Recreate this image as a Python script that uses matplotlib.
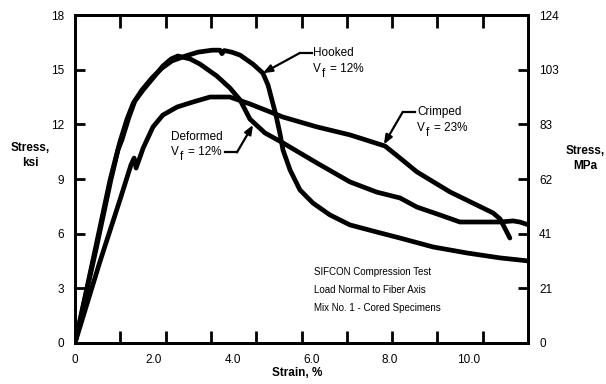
import matplotlib
matplotlib.use('Agg')
import matplotlib.pyplot as plt
import numpy as np

plt.rcParams['font.family'] = ['Liberation Sans', 'DejaVu Sans']


# stress-strain curves, strain in %, stress in ksi
hooked_strain = [0, 0.51, 0.89, 1.02, 1.14, 1.32, 1.48, 1.70, 1.95, 2.21, 2.46, 2.79,
                 3.12, 3.48, 3.68, 3.73, 3.79, 3.98, 4.19, 4.52, 4.77, 4.90, 5.00,
                 5.10, 5.20, 5.28, 5.46, 5.71, 6.04, 6.47, 6.98, 7.66, 8.25, 9.09,
                 9.95, 10.79, 11.52]
hooked_stress = [0, 5.10, 8.95, 10.04, 11.04, 12.29, 13.17, 13.89, 14.54, 15.09, 15.48, 15.74,
                 15.96, 16.07, 16.07, 15.88, 16.05, 15.96, 15.80, 15.30, 14.81, 14.15, 13.33,
                 12.51, 11.52, 10.59, 9.49, 8.40, 7.68, 7.03, 6.48, 6.09, 5.76, 5.27,
                 4.94, 4.67, 4.50]

deformed_strain = [0, 0.53, 0.91, 1.09, 1.19, 1.37, 1.52, 1.73, 1.98, 2.23, 2.44, 2.61,
                   2.92, 3.17, 3.60, 3.93, 4.19, 4.44, 4.82, 5.28, 6.14, 6.98, 7.66,
                   8.25, 8.68, 9.26, 9.77, 10.79, 11.12, 11.29, 11.52]
deformed_stress = [0, 5.10, 8.95, 10.59, 11.14, 12.40, 13.28, 13.89, 14.54, 15.20, 15.59, 15.75,
                   15.59, 15.31, 14.65, 14.00, 13.34, 12.29, 11.53, 10.98, 9.88, 8.84, 8.28,
                   7.96, 7.46, 7.03, 6.64, 6.64, 6.70, 6.64, 6.48]

crimped_strain = [0, 0.63, 1.14, 1.42, 1.50, 1.55, 1.73, 1.98, 2.23, 2.59, 3.00, 3.43,
                  3.93, 4.44, 5.28, 6.14, 6.98, 7.87, 8.25, 8.68, 9.52, 10.61, 10.79,
                  10.91, 11.04]
crimped_stress = [0, 4.45, 7.85, 9.77, 10.15, 9.60, 10.70, 11.86, 12.51, 12.95, 13.23, 13.50,
                  13.50, 13.12, 12.40, 11.86, 11.42, 10.81, 10.15, 9.39, 8.29, 7.14, 6.81,
                  6.31, 5.76]

ksi_ticks = [0, 3, 6, 9, 12, 15, 18]
mpa_labels = ['0', '21', '41', '62', '83', '103', '124']
strain_labels = [0, 2, 4, 6, 8, 10]
strain_max = 11.5

notes = ['SIFCON Compression Test', 'Load Normal to Fiber Axis',
         'Mix No. 1 - Cored Specimens']

fig = plt.figure(figsize=(6.06, 3.84), dpi=100)
ax = fig.add_axes([0.1238, 0.1068, 0.7475, 0.8541])

lw = 3.4
for s, t in [(hooked_strain, hooked_stress), (deformed_strain, deformed_stress),
             (crimped_strain, crimped_stress)]:
    ax.plot(s, t, color='black', lw=lw, solid_joinstyle='round', solid_capstyle='round')

ax.set_xlim(0, strain_max)
ax.set_ylim(0, 18)

for sp in ax.spines.values():
    sp.set_linewidth(2)

# labelled strain values carry no tick marks; the tick marks sit on an even 10-part grid
ax.set_xticks(strain_labels)
ax.set_xticklabels(['0', '2.0', '4.0', '6.0', '8.0', '10.0'])
ax.set_xticks(np.linspace(0, strain_max, 11)[1:-1], minor=True)
ax.tick_params(axis='x', which='major', length=0, pad=8, labelsize=8.5)
ax.tick_params(axis='x', which='minor', direction='in', length=9, width=2,
               top=True, bottom=True)

ax.set_yticks(ksi_ticks)
ax.set_yticklabels([str(v) for v in ksi_ticks])
ax.tick_params(axis='y', direction='in', length=7, width=2, pad=8, labelsize=8.5)

ax2 = ax.twinx()
ax2.set_ylim(0, 18)
ax2.set_yticks(ksi_ticks)
ax2.set_yticklabels(mpa_labels)
ax2.tick_params(axis='y', direction='in', length=7, width=2, pad=8, labelsize=8.5)
for sp in ax2.spines.values():
    sp.set_linewidth(2)

fig.text(0.050, 0.595, 'Stress,\nksi', ha='center', va='center', fontsize=8.5,
         fontweight='bold', linespacing=1.3)
fig.text(0.966, 0.588, 'Stress,\nMPa', ha='center', va='center', fontsize=8.5,
         fontweight='bold', linespacing=1.3)
fig.text(0.49, 0.028, 'Strain, %', ha='center', va='center', fontsize=8.5,
         fontweight='bold')

arrow = dict(arrowstyle='-|>,head_length=0.45,head_width=0.18', color='black',
             lw=1.6, shrinkA=0, shrinkB=0, mutation_scale=12)


def vf_text(x, y, pct):
    # V with a lowered, full-size f, then the fraction
    kw = dict(xy=(x, y), xycoords='data', textcoords='offset points',
              fontsize=8.5, ha='left', va='center')
    ax.annotate('V', xytext=(0, 0), **kw)
    ax.annotate('f', xytext=(6.6, -3.6), **kw)
    ax.annotate('= ' + pct, xytext=(12.2, 0), **kw)


def label_curve(name, vf, text_xy, corner, end, tip):
    ax.text(text_xy[0], text_xy[1], name, fontsize=8.5, ha='left', va='center')
    vf_text(text_xy[0], text_xy[1] - 0.90, vf)
    ax.plot([end[0], corner[0]], [end[1], corner[1]], color='black', lw=1.6)
    ax.annotate('', xy=tip, xytext=corner, arrowprops=arrow)


label_curve('Hooked', '12%', (6.04, 15.92), (5.71, 15.92), (6.02, 15.92), (4.77, 14.81))
label_curve('Crimped', '23%', (8.68, 12.68), (8.32, 12.68), (8.63, 12.68), (7.84, 10.90))

ax.text(2.44, 11.31, 'Deformed', fontsize=8.5, ha='left', va='center')
vf_text(2.44, 10.46, '12%')
ax.plot([3.81, 4.11], [10.46, 10.46], color='black', lw=1.6)
ax.annotate('', xy=(4.52, 11.97), xytext=(4.11, 10.46), arrowprops=arrow)

for i, line in enumerate(notes):
    ax.text(6.07, 3.90 - i * 1.0, line, fontsize=7, ha='left', va='center')

fig.savefig('out.png', dpi=100, facecolor='white')
